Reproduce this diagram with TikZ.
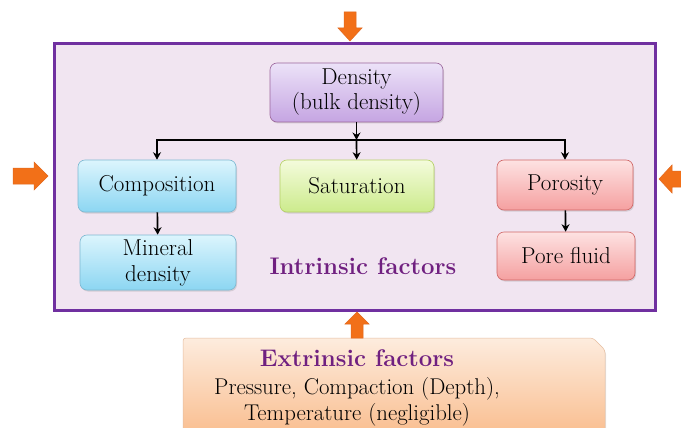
\documentclass[tikz,border=0pt]{standalone}
\usepackage{fontspec}
\usetikzlibrary{shadows,arrows.meta}
\definecolor{framecol}{RGB}{112,48,160}
\definecolor{framefill}{RGB}{241,229,241}
\definecolor{purptext}{RGB}{112,32,128}
\definecolor{orangearr}{RGB}{242,112,24}
\definecolor{orangeedge}{RGB}{226,104,30}
\tikzset{
  box/.style={draw=#1!70!black!60, rounded corners=7pt, align=center, inner sep=1pt,
    font=\fontsize{23}{25}\selectfont, line width=0.6pt,
    drop shadow={shadow xshift=1pt, shadow yshift=-1.5pt, opacity=0.25}},
  conn/.style={line width=1.7pt, -{Stealth[length=7.5pt,width=8pt]}},
  blockarrow/.style={fill=orangearr, draw=orangeedge, line width=0.5pt, line join=miter},
  purplabel/.style={font=\fontsize{24}{28}\selectfont\bfseries, text=purptext},
  plainlabel/.style={font=\fontsize{22.8}{25}\selectfont}
}
\begin{document}
\begin{tikzpicture}[x=1pt,y=-1pt]
\useasboundingbox (0,0) rectangle (681,428);
\clip (0,0) rectangle (681,428);
\fill[white] (0,0) rectangle (681,428);
% frame
\node[draw=framecol, line width=3pt, fill=framefill, minimum width=601pt, minimum height=266pt, inner sep=0pt] (frame) at (354.5,177) {};
% boxes
\node[box=violet, top color={rgb,255:red,236;green,226;blue,248}, bottom color={rgb,255:red,197;green,165;blue,226}, minimum width=173pt, minimum height=59pt] (dens) at (356.5,92.5) {Density\\(bulk density)};
\node[box=cyan, top color={rgb,255:red,220;green,245;blue,253}, bottom color={rgb,255:red,140;green,214;blue,242}, minimum width=158pt, minimum height=52pt] (comp) at (157,186) {Composition};
\node[box=lime, top color={rgb,255:red,244;green,251;blue,220}, bottom color={rgb,255:red,204;green,235;blue,140}, minimum width=154pt, minimum height=52pt] (sat) at (357,186) {Saturation};
\node[box=red, top color={rgb,255:red,253;green,226;blue,226}, bottom color={rgb,255:red,245;green,160;blue,160}, minimum width=136pt, minimum height=50pt] (poro) at (565,185) {Porosity};
\node[box=cyan, top color={rgb,255:red,220;green,245;blue,253}, bottom color={rgb,255:red,140;green,214;blue,242}, minimum width=156pt, minimum height=55pt, font=\fontsize{23}{26}\selectfont] (mine) at (158,262.5) {Mineral\\density};
\node[box=red, top color={rgb,255:red,253;green,226;blue,226}, bottom color={rgb,255:red,245;green,160;blue,160}, minimum width=138pt, minimum height=48pt] (pore) at (566,256) {Pore fluid};
\node[purplabel] (intr) at (363,266) {Intrinsic factors};
% connectors
\coordinate (bus) at (356.5,140);
\draw[conn] (dens) -- (bus);
\draw[conn] (bus) -- (sat);
\draw[conn] (bus) -| (comp.north);
\draw[conn] (bus) -| (poro.north);
\draw[conn] (comp) -- (mine);
\draw[conn] (poro) -- (pore);
% extrinsic box
\coordinate (e1) at (183,338);
\coordinate (e2) at (593,338);
\coordinate (e3) at (605,350);
\coordinate (e4) at (605,445);
\coordinate (e5) at (183,445);
\shade[top color={rgb,255:red,253;green,236;blue,222}, bottom color={rgb,255:red,249;green,185;blue,135}, draw={rgb,255:red,230;green,190;blue,160}, line width=0.5pt, rounded corners=3pt, drop shadow={shadow xshift=1pt, shadow yshift=-1.5pt, opacity=0.2}]
  (e1) -- (e2) -- (e3) -- (e4) -- (e5) -- cycle;
\node[purplabel] (ext1) at (357,358) {Extrinsic factors};
\node[plainlabel] (ext2) at (357,389) {Pressure, Compaction (Depth),};
\node[plainlabel] (ext3) at (357,415) {Temperature (negligible)};
% block arrows
% top, pointing down, tip on the frame
\filldraw[blockarrow] (344,12) -- (356,12) -- (356,28) -- (362,28) -- (350,41) -- (338,28) -- (344,28) -- cycle;
% left, pointing right
\filldraw[blockarrow] (13,168) -- (34,168) -- (34,162) -- (48,176) -- (34,190) -- (34,184) -- (13,184) -- cycle;
% right, pointing left
\filldraw[blockarrow] (690,171) -- (672,171) -- (672,165) -- (659,179) -- (672,193) -- (672,187) -- (690,187) -- cycle;
% bottom, pointing up
\filldraw[blockarrow] (351,338) -- (363,338) -- (363,324) -- (369,324) -- (357,312) -- (345,324) -- (351,324) -- cycle;
\end{tikzpicture}
\end{document}
